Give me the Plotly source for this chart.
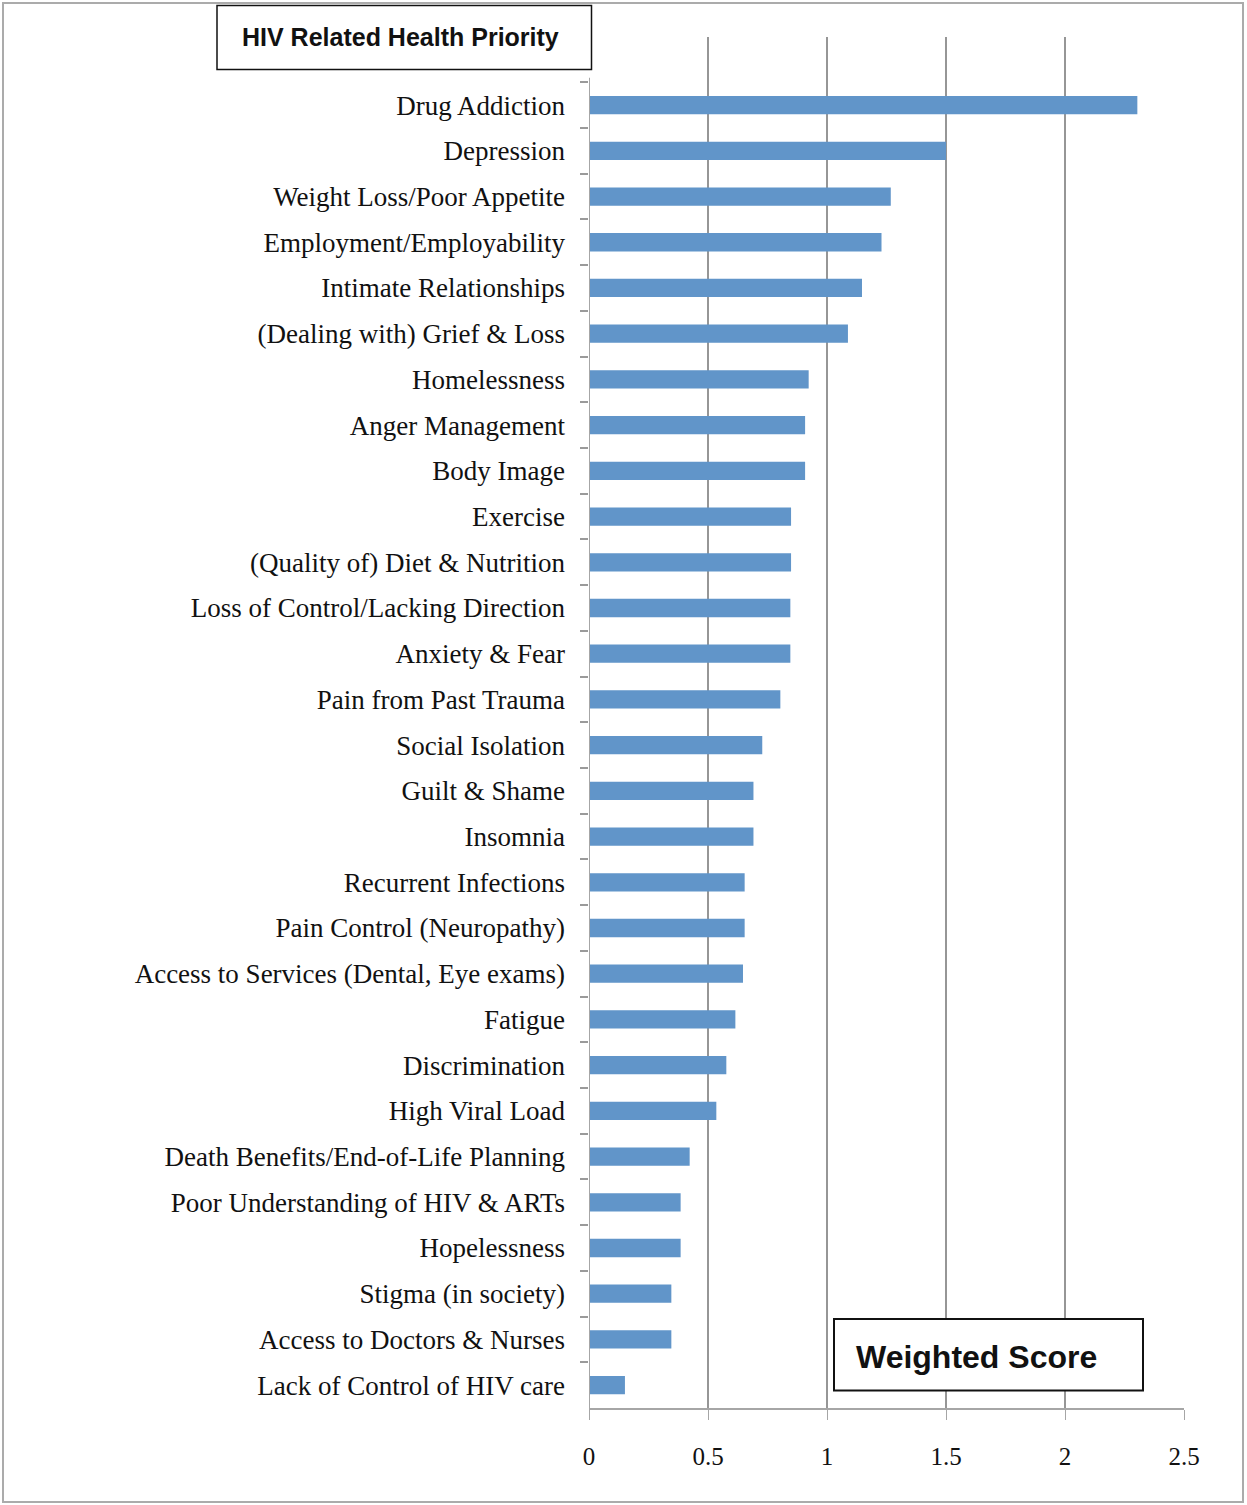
import plotly.graph_objects as go

categories = [
    "Drug Addiction", "Depression", "Weight Loss/Poor Appetite", "Employment/Employability",
    "Intimate Relationships", "(Dealing with) Grief & Loss", "Homelessness", "Anger Management",
    "Body Image", "Exercise", "(Quality of) Diet & Nutrition", "Loss of Control/Lacking Direction",
    "Anxiety & Fear", "Pain from Past Trauma", "Social Isolation", "Guilt & Shame", "Insomnia",
    "Recurrent Infections", "Pain Control (Neuropathy)", "Access to Services (Dental, Eye exams)",
    "Fatigue", "Discrimination", "High Viral Load", "Death Benefits/End-of-Life Planning",
    "Poor Understanding of HIV & ARTs", "Hopelessness", "Stigma (in society)",
    "Access to Doctors & Nurses", "Lack of Control of HIV care",
]
weighted_score = [
    2.304, 1.500, 1.268, 1.229, 1.147, 1.088, 0.923, 0.908, 0.908, 0.849, 0.849, 0.846,
    0.846, 0.804, 0.728, 0.691, 0.691, 0.654, 0.654, 0.647, 0.615, 0.577, 0.535, 0.423,
    0.385, 0.385, 0.346, 0.346, 0.151,
]
x_tick_vals = [0, 0.5, 1, 1.5, 2, 2.5]
x_tick_text = ["0", "0.5", "1", "1.5", "2", "2.5"]
title_text = "HIV Related Health Priority"
axis_title_text = "Weighted Score"

PAGE_W, PAGE_H = 1247, 1505
PLOT_X0, PLOT_X1, PLOT_Y0, PLOT_Y1 = 589, 1184, 37, 1408   # page pixels
W, H = PAGE_W, PAGE_H
L, R = PLOT_X0, PAGE_W - PLOT_X1
T, B = PLOT_Y0, PAGE_H - PLOT_Y1
pw, ph = PLOT_X1 - PLOT_X0, PLOT_Y1 - PLOT_Y0


def px(xp):
    return (xp - PLOT_X0) / pw


def py(yp):
    return (PLOT_Y1 - yp) / ph


serif = "Liberation Serif, Times New Roman, serif"
grey = "#969696"

fig = go.Figure(go.Bar(
    y=categories, x=weighted_score, orientation="h", width=0.4,
    marker=dict(color="#6195c9", line=dict(width=0)),
))

fig.update_layout(
    width=W, height=H,
    margin=dict(l=L, r=R, t=T, b=B, pad=0),
    paper_bgcolor="white", plot_bgcolor="white",
    showlegend=False,
    xaxis=dict(
        range=[0, 2.5], tickmode="array", tickvals=x_tick_vals, ticktext=x_tick_text,
        showgrid=True, gridcolor=grey, gridwidth=2, zeroline=False,
        showline=True, linecolor="#a6a6a6", linewidth=2,
        ticks="outside", ticklen=10, tickcolor="#a6a6a6", tickwidth=1,
        tickfont=dict(family=serif, size=25, color="#111111"),
        ticklabelstandoff=15,
    ),
    yaxis=dict(
        type="category", categoryorder="array", categoryarray=categories,
        range=[28.5, -1.49],
        showgrid=False, zeroline=False, showline=False,
        ticks="outside", ticklen=8, tickcolor="#9a9a9a", tickwidth=2,
        tickson="boundaries",
        tickfont=dict(family=serif, size=27, color="#111111"),
        ticklabelstandoff=23,
    ),
    shapes=[
        dict(type="line", xref="x", yref="y", x0=0, x1=0, y0=-0.6, y1=28.5,
             line=dict(color="#a6a6a6", width=2)),
        dict(type="rect", xref="paper", yref="paper",
             x0=px(3), x1=px(1243), y0=py(1502), y1=py(3),
             line=dict(color="#ababab", width=2)),
        dict(type="rect", xref="paper", yref="paper",
             x0=px(217), x1=px(591.5), y0=py(69.5), y1=py(5.5),
             line=dict(color="#111111", width=1.5), fillcolor="white"),
        dict(type="rect", xref="paper", yref="paper",
             x0=px(834), x1=px(1143), y0=py(1390.5), y1=py(1319),
             line=dict(color="#111111", width=2), fillcolor="white"),
    ],
    annotations=[
        dict(text="<b>" + title_text + "</b>", xref="paper", yref="paper",
             x=px(400), y=py(37), xanchor="center", yanchor="middle", showarrow=False,
             font=dict(family="Liberation Sans, Arial, sans-serif", size=25, color="#111111")),
        dict(text="<b>" + axis_title_text + "</b>", xref="paper", yref="paper",
             x=px(976), y=py(1357), xanchor="center", yanchor="middle", showarrow=False,
             font=dict(family="Liberation Sans, Arial, sans-serif", size=32, color="#111111")),
    ],
)

fig.write_html("out.html",
               config={"displayModeBar": False},
               post_script="document.body.style.margin='0';document.body.style.overflow='hidden';")
